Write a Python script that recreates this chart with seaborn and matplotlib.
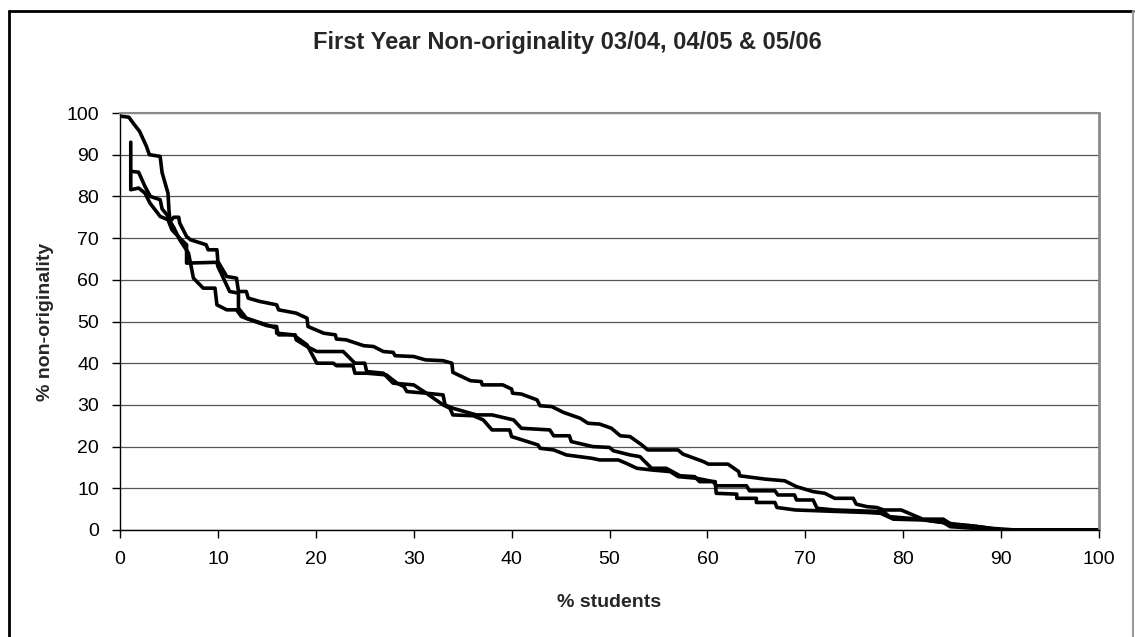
import pandas as pd
import matplotlib
matplotlib.use("Agg")
import matplotlib.pyplot as plt
from matplotlib.lines import Line2D
import seaborn as sns

# Kurven (% students, % non-originality)
x_a = [0.2, 0.9, 1.4, 2.0, 2.7, 3.0, 4.1, 4.3, 4.9, 5.0, 5.1, 5.5, 6.0, 6.1, 6.8, 7.2, 8.8, 9.0, 9.9, 10.0,
       10.9, 11.9, 12.1, 12.9, 13.1, 14.3, 16.0, 16.2, 18.0, 19.1, 19.2, 20.8, 22.0, 22.1, 23.1, 24.9, 25.9,
       26.9, 27.9, 28.1, 30.0, 31.2, 33.0, 33.9, 34.0, 35.8, 36.9, 37.0, 39.1, 40.0, 40.1, 41.0, 42.6, 42.9,
       44.1, 45.3, 47.0, 47.8, 49.0, 50.2, 51.1, 52.1, 53.3, 53.9, 57.0, 57.5, 59.6, 60.1, 62.1, 63.2, 63.3,
       65.9, 67.9, 69.1, 70.8, 72.0, 73.0, 74.9, 75.2, 76.3, 77.3, 78.0, 79.8, 81.0, 82.0, 84.1, 85.0, 87.0,
       89.0, 91.5, 100.0]
y_a = [99.2, 99.0, 97.4, 95.6, 92.0, 90.0, 89.6, 85.7, 80.8, 76.8, 74.0, 75.0, 75.0, 73.6, 70.4, 69.6, 68.4,
       67.2, 67.2, 64.4, 60.8, 60.4, 57.2, 57.2, 55.6, 54.8, 54.0, 52.8, 52.0, 50.8, 48.8, 47.2, 46.8, 45.8,
       45.6, 44.2, 44.0, 42.8, 42.6, 41.8, 41.6, 40.8, 40.6, 40.0, 37.8, 35.8, 35.6, 34.8, 34.8, 33.8, 32.8,
       32.6, 31.2, 29.8, 29.6, 28.2, 26.8, 25.6, 25.4, 24.4, 22.6, 22.4, 20.4, 19.2, 19.2, 18.2, 16.4, 15.8,
       15.8, 14.0, 13.0, 12.2, 11.8, 10.4, 9.2, 8.8, 7.6, 7.6, 6.2, 5.6, 5.4, 4.8, 4.8, 3.6, 2.6, 2.6, 1.2,
       1.0, 0.4, 0.0, 0.0]

x_b = [1.1, 1.1, 1.9, 2.55, 3.06, 4.1, 4.9, 5.3, 6.1, 6.8, 6.8, 9.9, 10.0, 11.2, 12.1, 12.1, 12.9, 16.0,
       16.2, 17.9, 18.0, 19.1, 20.1, 22.8, 24.0, 25.0, 25.2, 26.9, 27.9, 30.0, 31.3, 33.0, 33.2, 34.0, 36.4,
       38.0, 40.2, 41.0, 43.9, 44.3, 45.9, 46.1, 48.3, 50.0, 50.4, 52.1, 53.1, 54.3, 55.8, 57.2, 58.7, 59.2,
       60.8, 60.9, 63.0, 63.0, 65.0, 65.0, 66.9, 67.1, 69.0, 76.3, 77.7, 79.0, 82.1, 85.0, 87.0, 90.2, 100.0]
y_b = [93.0, 81.6, 82.0, 80.8, 78.4, 75.2, 74.4, 72.0, 70.0, 68.4, 64.0, 64.2, 63.2, 57.2, 56.8, 53.2, 50.8,
       48.4, 46.8, 46.8, 45.6, 44.0, 42.8, 42.8, 40.0, 40.0, 38.0, 37.6, 35.2, 34.8, 32.8, 32.4, 30.0, 29.2,
       27.6, 27.6, 26.4, 24.4, 24.0, 22.6, 22.6, 21.2, 20.0, 19.8, 19.0, 18.0, 17.6, 14.8, 14.8, 13.0, 12.8,
       11.6, 11.6, 8.8, 8.6, 7.6, 7.6, 6.6, 6.6, 5.4, 4.8, 4.2, 4.0, 2.6, 2.4, 1.5, 1.0, 0.0, 0.0]

x_c = [1.2, 1.9, 2.55, 3.1, 4.1, 4.3, 4.8, 5.0, 5.5, 6.1, 7.0, 7.5, 8.5, 9.7, 9.9, 10.9, 11.9, 12.4, 13.3,
       15.0, 16.0, 16.0, 17.7, 19.1, 20.1, 21.8, 22.1, 23.8, 24.0, 25.2, 27.2, 28.3, 29.0, 29.3, 31.3, 33.0,
       33.7, 34.0, 36.1, 37.1, 38.0, 39.8, 40.0, 42.7, 42.9, 44.3, 45.6, 48.2, 49.0, 50.9, 51.7, 52.8, 54.3,
       56.2, 57.0, 58.9, 60.6, 60.9, 64.0, 64.3, 66.9, 67.2, 68.9, 69.1, 70.8, 71.2, 73.0, 78.0, 78.6, 81.7,
       84.1, 84.8, 88.0, 89.0, 100.0]
y_c = [86.0, 85.8, 82.4, 80.0, 79.2, 77.0, 75.6, 74.5, 72.5, 69.6, 66.4, 60.4, 58.0, 58.0, 54.0, 52.8, 52.8,
       51.2, 50.4, 49.0, 48.8, 47.2, 46.8, 44.4, 40.0, 40.0, 39.4, 39.4, 37.6, 37.6, 37.2, 35.2, 34.4, 33.2,
       32.8, 30.0, 29.2, 27.6, 27.4, 26.4, 24.0, 24.0, 22.4, 20.4, 19.6, 19.2, 18.0, 17.2, 16.8, 16.8, 16.0,
       14.8, 14.4, 14.0, 12.8, 12.4, 11.6, 10.6, 10.6, 9.4, 9.4, 8.4, 8.4, 7.2, 7.2, 5.2, 4.8, 4.4, 3.2, 2.6,
       1.8, 0.8, 0.3, 0.0, 0.0]

years = ["03/04", "04/05", "05/06"]

df = pd.concat([
    pd.DataFrame({"students": x_a, "nonorig": y_a, "year": years[0]}),
    pd.DataFrame({"students": x_b, "nonorig": y_b, "year": years[1]}),
    pd.DataFrame({"students": x_c, "nonorig": y_c, "year": years[2]}),
], ignore_index=True)

sns.set_theme(style="white")
plt.rcParams["font.family"] = ["Liberation Sans", "DejaVu Sans"]

fig = plt.figure(figsize=(11.35, 6.37), dpi=100)
ax = fig.add_axes([120 / 1135, 1 - 530 / 637, 979 / 1135, 417 / 637])

sns.lineplot(data=df, x="students", y="nonorig", hue="year", palette=["black"] * 3,
             estimator=None, sort=False, linewidth=2.6, legend=False, ax=ax)

ax.set_xlim(0, 100)
ax.set_ylim(0, 100)
ax.set_xticks(range(0, 101, 10))
ax.set_yticks(range(0, 101, 10))
ax.yaxis.grid(True, color="#555555", linewidth=0.9)
ax.set_axisbelow(True)
ax.tick_params(axis="both", direction="out", length=6, width=1, color="black",
               labelsize=14, labelcolor="black")
ax.tick_params(axis="x", pad=9, bottom=True)
ax.tick_params(axis="y", pad=9, left=True)

for side in ["left", "bottom"]:
    ax.spines[side].set_color("black")
    ax.spines[side].set_linewidth(1.0)
ax.spines["top"].set_color("#8a8a8a")
ax.spines["top"].set_linewidth(1.5)
ax.spines["right"].set_color("#8a8a8a")
ax.spines["right"].set_linewidth(2.0)

ax.set_xlabel("% students", fontsize=14, fontweight="bold", va="center")
ax.xaxis.set_label_coords(0.5, -0.173)
ax.set_ylabel("% non-originality", fontsize=14, fontweight="bold", va="center")
ax.yaxis.set_label_coords(-0.0766, 0.5)

fig.text(0.5, 1 - 43 / 637, "First Year Non-originality 03/04, 04/05 & 05/06",
         ha="center", va="center", fontsize=17, fontweight="bold")

# Rahmen um das Diagramm
fig.add_artist(Line2D([9 / 1135, 9 / 1135], [0, 1 - 11 / 637], transform=fig.transFigure,
                      color="black", linewidth=2))
fig.add_artist(Line2D([9 / 1135, 1132.5 / 1135], [1 - 11 / 637, 1 - 11 / 637],
                      transform=fig.transFigure, color="black", linewidth=2))
fig.add_artist(Line2D([1132.5 / 1135, 1132.5 / 1135], [0, 1 - 11 / 637], transform=fig.transFigure,
                      color="#999999", linewidth=1.5))

fig.savefig("out.png", dpi=100)
